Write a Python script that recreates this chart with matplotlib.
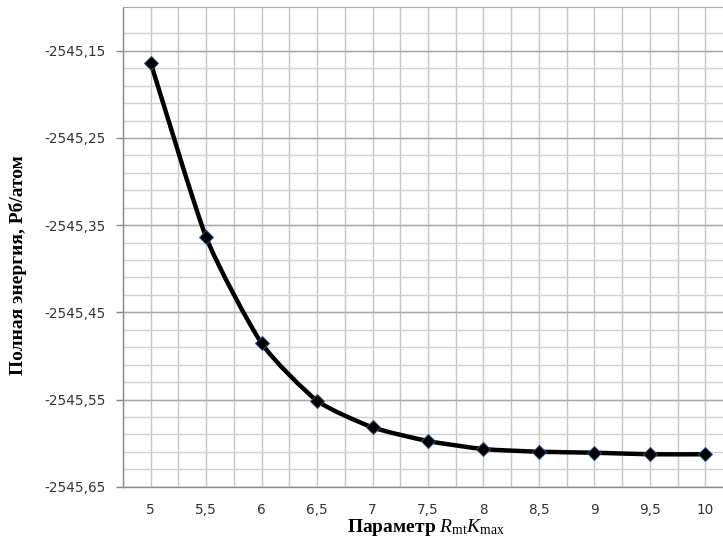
import numpy as np
import matplotlib.pyplot as plt
from matplotlib.path import Path
from matplotlib.patches import PathPatch
from matplotlib.ticker import FixedLocator, FixedFormatter

# parameter R_mt*K_max and total energy (Ry/atom)
rk = [5, 5.5, 6, 6.5, 7, 7.5, 8, 8.5, 9, 9.5, 10]
energy = [-2545.1638, -2545.3640, -2545.4856, -2545.5514, -2545.5819,
          -2545.5976, -2545.6068, -2545.6099, -2545.6110, -2545.6128,
          -2545.6128]
y_ticks = [-2545.65, -2545.55, -2545.45, -2545.35, -2545.25, -2545.15]


def comma(v, nd):
    s = f"{v:.{nd}f}" if nd else f"{v:g}"
    return s.replace('.', ',')


def smooth_path(x, y, k=10):
    """Cubic Bezier through the points with soft tangents (smoothed line)."""
    x = np.asarray(x, float)
    y = np.asarray(y, float)
    verts = [(x[0], y[0])]
    codes = [Path.MOVETO]
    n = len(x)
    for i in range(n - 1):
        x0, y0 = (x[i - 1], y[i - 1]) if i > 0 else (x[i], y[i])
        x3, y3 = (x[i + 2], y[i + 2]) if i + 2 < n else (x[i + 1], y[i + 1])
        c1 = (x[i] + (x[i + 1] - x0) / k, y[i] + (y[i + 1] - y0) / k)
        c2 = (x[i + 1] - (x3 - x[i]) / k, y[i + 1] - (y3 - y[i]) / k)
        verts += [c1, c2, (x[i + 1], y[i + 1])]
        codes += [Path.CURVE4] * 3
    return Path(verts, codes)


plt.rcParams['mathtext.fontset'] = 'custom'
plt.rcParams['mathtext.rm'] = 'Liberation Serif'
plt.rcParams['mathtext.it'] = 'Liberation Serif:italic'

fig = plt.figure(figsize=(7.23, 5.47), dpi=100)
W, H = 723, 547
left, right, top, bottom = 123, 733, 7.2, 486.7
ax = fig.add_axes([left / W, 1 - bottom / H, (right - left) / W, (bottom - top) / H])

ax.set_xlim(4.75, 10.25)
ax.set_ylim(-2545.65, -2545.10)

# grid: verticals every quarter step, horizontals minor 0.02 / major 0.1
for xv in np.arange(4.75, 10.26, 0.25):
    ax.axvline(xv, color='#c6c6c6', lw=1.0, zorder=0)
for yv in np.arange(-2545.63, -2545.12, 0.02):
    ax.axhline(yv, color='#d0d0d0', lw=1.0, zorder=0)
for yv in y_ticks:
    ax.axhline(yv, color='#a8a8a8', lw=1.0, zorder=0.5)

for side in ['left', 'bottom']:
    ax.spines[side].set_color('#8a8a8a')
    ax.spines[side].set_linewidth(1.0)
ax.spines['top'].set_color('#a8a8a8')
ax.spines['right'].set_visible(False)

ax.yaxis.set_major_locator(FixedLocator(y_ticks))
ax.yaxis.set_major_formatter(FixedFormatter([comma(v, 2) for v in y_ticks]))
ax.xaxis.set_major_locator(FixedLocator(rk))
ax.xaxis.set_major_formatter(FixedFormatter([comma(v, 0) for v in rk]))
ax.tick_params(axis='y', length=5, width=1, color='#8a8a8a', pad=7.5,
               labelsize=9.8, labelcolor='#333333')
ax.tick_params(axis='x', length=0, pad=12, labelsize=9.8, labelcolor='#333333')

ax.add_patch(PathPatch(smooth_path(rk, energy), fill=False, edgecolor='black',
                       lw=3.2, zorder=3, capstyle='round', joinstyle='round'))
ax.plot(rk, energy, 'D', ms=7.5, mfc='black', mec='#2b4f7e', mew=0.7, zorder=4)

fig.text(18 / W, 1 - 265 / H, 'Полная энергия, Рб/атом', rotation=90,
         ha='center', va='center', family='Liberation Serif',
         fontsize=14, fontweight='bold')
fig.text(426 / W, 1 - 527 / H,
         r'Параметр $\mathit{R}_{\mathrm{mt}}\mathit{K}_{\mathrm{max}}$',
         ha='center', va='center', family='Liberation Serif',
         fontsize=14, fontweight='bold')

fig.savefig('out.png', dpi=100)
